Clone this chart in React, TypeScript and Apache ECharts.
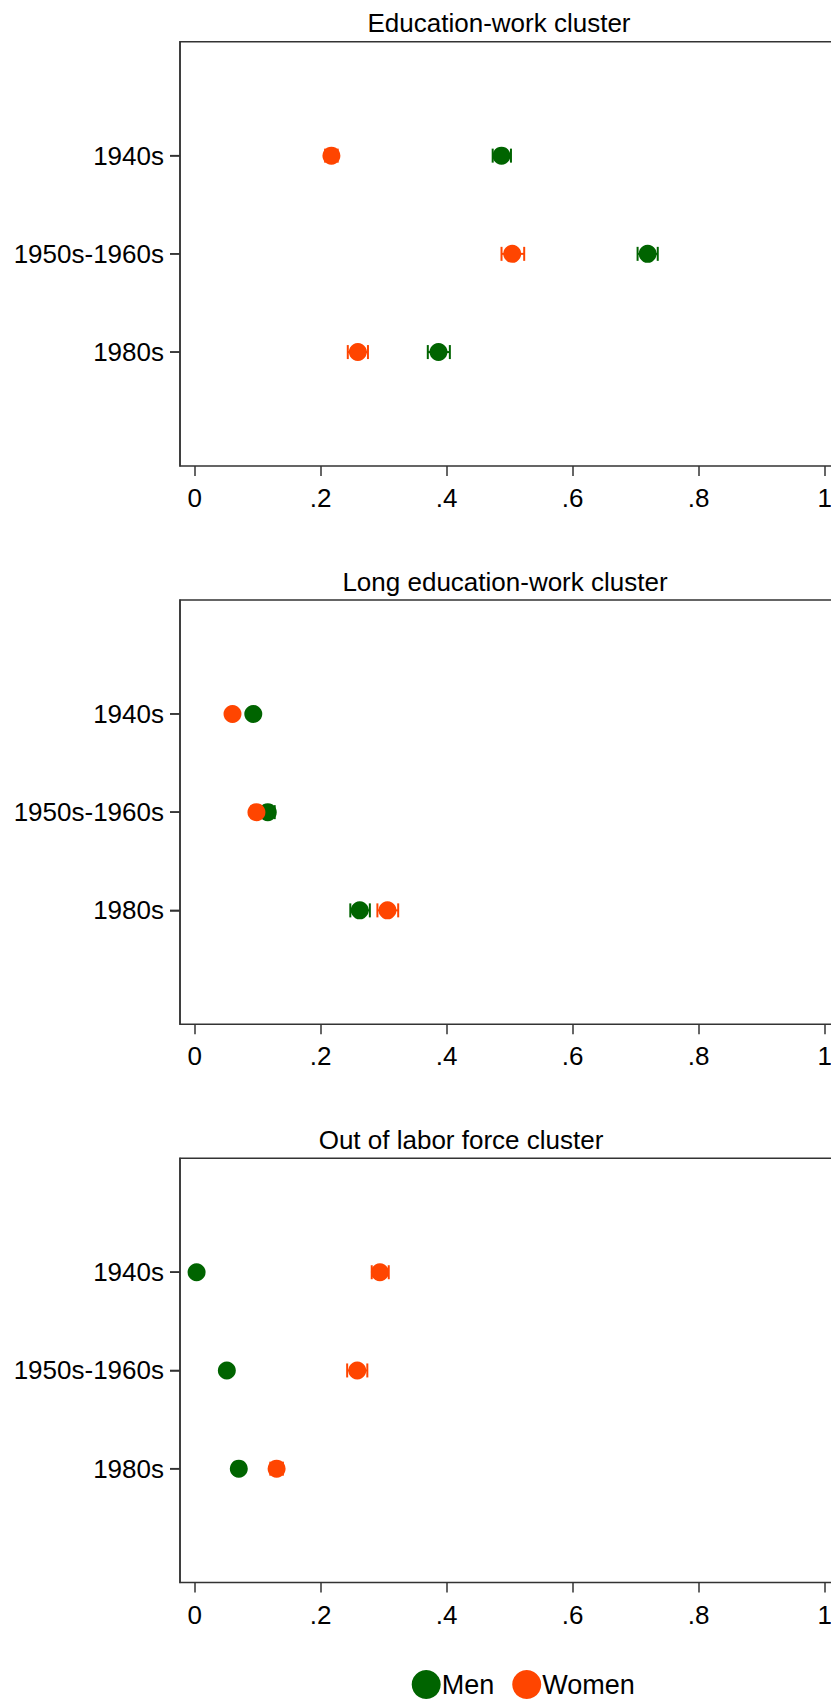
import React, { useEffect, useRef } from "react";
import * as echarts from "echarts";

// Birth cohorts shown on every panel (top to bottom)
const cohorts = ["1940s", "1950s-1960s", "1980s"];
const panelTitles = [
  "Education-work cluster",
  "Long education-work cluster",
  "Out of labor force cluster",
];
const xTicks = [0, 0.2, 0.4, 0.6, 0.8, 1];

// Estimated shares by cohort, with 95% confidence bounds [low, high]
const menEduWork = [0.487, 0.719, 0.387];
const menEduWorkCI = [[0.473, 0.502], [0.703, 0.735], [0.37, 0.405]];
const womenEduWork = [0.217, 0.504, 0.259];
const womenEduWorkCI = [[0.207, 0.227], [0.487, 0.523], [0.243, 0.275]];

const menLongEdu = [0.093, 0.116, 0.262];
const menLongEduCI = [[0.086, 0.1], [0.106, 0.127], [0.247, 0.278]];
const womenLongEdu = [0.06, 0.098, 0.306];
const womenLongEduCI = [[0.053, 0.067], [0.09, 0.106], [0.29, 0.323]];

const menOutLabor = [0.003, 0.051, 0.07];
const menOutLaborCI = [[0.001, 0.005], [0.046, 0.056], [0.063, 0.077]];
const womenOutLabor = [0.294, 0.258, 0.13];
const womenOutLaborCI = [[0.281, 0.308], [0.242, 0.274], [0.12, 0.14]];

const panels = [
  { men: menEduWork, menCI: menEduWorkCI, women: womenEduWork, womenCI: womenEduWorkCI },
  { men: menLongEdu, menCI: menLongEduCI, women: womenLongEdu, womenCI: womenLongEduCI },
  { men: menOutLabor, menCI: menOutLaborCI, women: womenOutLabor, womenCI: womenOutLaborCI },
];

const MEN_COLOR = "#006400";
const WOMEN_COLOR = "#ff4500";
const AXIS_COLOR = "#333";
const FONT = "'Liberation Sans', Arial, sans-serif";

const W = 831;
const H = 1699;
const GRID_TOPS = [41.7, 600, 1158.3];
const GRID_H = 424.3;
const GRID_LEFT = 180;
const X_ZERO_PX = 194.7;
const X_UNIT_PX = 630;
const X_MAX = 1.06;
const TITLE_CX = [499, 505, 461];
const TITLE_Y = [23.3, 581.6, 1139.9];
const TICK_LEN = 10;

function fmtTick(v: number): string {
  if (v === 0) return "0";
  if (v === 1) return "1";
  return String(v).replace(/^0/, "");
}

function errorBarRenderer(color: string) {
  return (params: any, api: any) => {
    const lo = api.coord([api.value(0), api.value(2)]);
    const hi = api.coord([api.value(1), api.value(2)]);
    const cap = 7;
    const style = { stroke: color, lineWidth: 2 };
    return {
      type: "group",
      children: [
        { type: "line", shape: { x1: lo[0], y1: lo[1], x2: hi[0], y2: hi[1] }, style },
        { type: "line", shape: { x1: lo[0], y1: lo[1] - cap, x2: lo[0], y2: lo[1] + cap }, style },
        { type: "line", shape: { x1: hi[0], y1: hi[1] - cap, x2: hi[0], y2: hi[1] + cap }, style },
      ],
    };
  };
}

export default function App() {
  const ref = useRef<HTMLDivElement>(null);

  useEffect(() => {
    document.body.style.margin = "0";
    if (!ref.current) return;
    const chart = echarts.init(ref.current, null, { renderer: "svg" });

    const xMin = (GRID_LEFT - X_ZERO_PX) / X_UNIT_PX;
    const gridRight = W - (X_ZERO_PX + X_MAX * X_UNIT_PX);
    const yPad = 1.16;
    const cohortIdx = cohorts.map((_, k) => k);

    const grids = GRID_TOPS.map((top) => ({
      left: GRID_LEFT,
      right: gridRight,
      top,
      height: GRID_H,
      outerBoundsMode: "none",
      show: true,
      borderColor: AXIS_COLOR,
      borderWidth: 1.5,
    }));

    const xAxes = GRID_TOPS.map((_, i) => ({
      type: "value",
      gridIndex: i,
      min: xMin,
      max: X_MAX,
      axisLine: { show: false, onZero: false },
      splitLine: { show: false },
      axisTick: {
        length: TICK_LEN,
        customValues: xTicks,
        lineStyle: { color: AXIS_COLOR, width: 1.5 },
      },
      axisLabel: {
        customValues: xTicks,
        formatter: fmtTick,
        fontSize: 26,
        fontFamily: FONT,
        color: "#000",
        margin: 19,
      },
    }));

    const yAxes = GRID_TOPS.map((_, i) => ({
      type: "value",
      gridIndex: i,
      inverse: true,
      min: -yPad,
      max: cohorts.length - 1 + yPad,
      axisLine: { show: true, onZero: false, lineStyle: { color: AXIS_COLOR, width: 1.5 } },
      splitLine: { show: false },
      axisTick: {
        show: true,
        length: TICK_LEN,
        customValues: cohortIdx,
        lineStyle: { color: AXIS_COLOR, width: 1.5 },
      },
      axisLabel: {
        customValues: cohortIdx,
        formatter: (v: number) => cohorts[v] ?? "",
        fontSize: 26,
        fontFamily: FONT,
        color: "#000",
        margin: 16,
      },
    }));

    const series: any[] = [];
    panels.forEach((p, i) => {
      series.push({
        name: "Men CI",
        type: "custom",
        xAxisIndex: i,
        yAxisIndex: i,
        renderItem: errorBarRenderer(MEN_COLOR),
        data: p.menCI.map((ci, k) => [ci[0], ci[1], k]),
        z: 1,
      });
      series.push({
        name: "Women CI",
        type: "custom",
        xAxisIndex: i,
        yAxisIndex: i,
        renderItem: errorBarRenderer(WOMEN_COLOR),
        data: p.womenCI.map((ci, k) => [ci[0], ci[1], k]),
        z: 1,
      });
      series.push({
        name: "Men",
        type: "scatter",
        xAxisIndex: i,
        yAxisIndex: i,
        symbol: "circle",
        symbolSize: 18,
        itemStyle: { color: MEN_COLOR, opacity: 1 },
        data: p.men.map((v, k) => [v, k]),
        z: 2,
      });
      series.push({
        name: "Women",
        type: "scatter",
        xAxisIndex: i,
        yAxisIndex: i,
        symbol: "circle",
        symbolSize: 18,
        itemStyle: { color: WOMEN_COLOR, opacity: 1 },
        data: p.women.map((v, k) => [v, k]),
        z: 3,
      });
    });

    const titleGraphics = panelTitles.map((t, i) => ({
      type: "text",
      x: TITLE_CX[i],
      y: TITLE_Y[i],
      style: {
        text: t,
        fontSize: 26,
        fontFamily: FONT,
        fill: "#000",
        textAlign: "center",
        textVerticalAlign: "middle",
      },
    }));

    chart.setOption({
      animation: false,
      grid: grids,
      xAxis: xAxes,
      yAxis: yAxes,
      legend: {
        data: [
          { name: "Men", itemStyle: { color: MEN_COLOR } },
          { name: "Women", itemStyle: { color: WOMEN_COLOR } },
        ],
        icon: "circle",
        itemWidth: 29,
        itemHeight: 29,
        itemGap: 18,
        left: 406.7,
        top: 1665,
        selectedMode: false,
        textStyle: {
          fontSize: 27,
          fontFamily: FONT,
          color: "#000",
          padding: [0, 0, 0, -4],
        },
      },
      graphic: titleGraphics,
      series,
    });

    // Outward tick marks on the cohort axis, placed through each panel's scales
    const tickGraphics: any[] = [];
    GRID_TOPS.forEach((_, i) => {
      cohortIdx.forEach((k) => {
        const pt = chart.convertToPixel({ gridIndex: i }, [xMin, k]) as number[];
        if (!pt || !isFinite(pt[0]) || !isFinite(pt[1])) return;
        tickGraphics.push({
          type: "line",
          shape: { x1: pt[0] - TICK_LEN, y1: pt[1], x2: pt[0], y2: pt[1] },
          style: { stroke: AXIS_COLOR, lineWidth: 1.5 },
        });
      });
    });
    chart.setOption({ graphic: [...titleGraphics, ...tickGraphics] });

    return () => chart.dispose();
  }, []);

  return <div ref={ref} style={{ width: W, height: H }} />;
}
